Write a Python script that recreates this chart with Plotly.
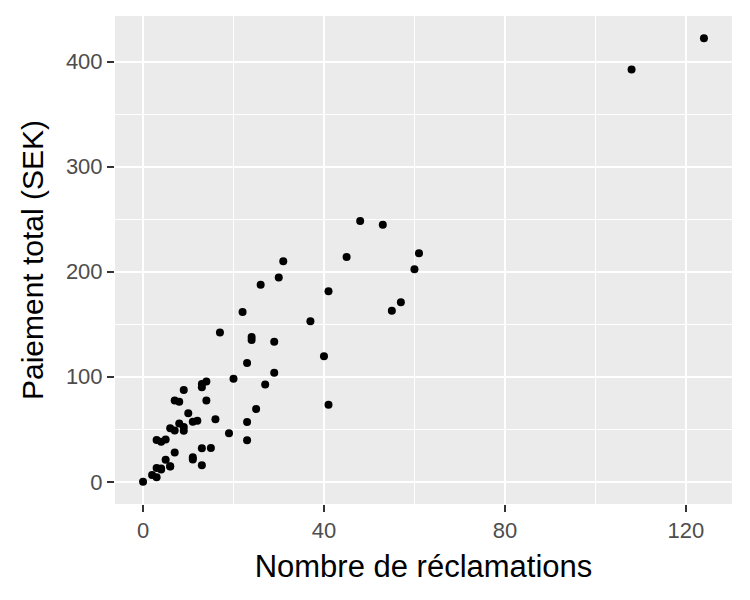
import plotly.graph_objects as go

# Swedish auto insurance: number of claims vs total payment (thousands SEK)
claims = [108, 19, 13, 124, 40, 57, 23, 14, 45, 10, 5, 48, 11, 23, 7, 2, 24, 6, 3, 23,
          6, 9, 9, 3, 29, 7, 4, 20, 7, 4, 0, 25, 6, 5, 22, 11, 61, 12, 4, 16,
          13, 60, 41, 37, 55, 41, 11, 27, 8, 3, 17, 13, 13, 15, 8, 29, 30, 24, 9, 31,
          14, 53, 26]
payment = [392.5, 46.2, 15.7, 422.2, 119.4, 170.9, 56.9, 77.5, 214.0, 65.3, 20.9, 248.1,
           23.5, 39.6, 48.8, 6.6, 134.9, 50.9, 4.4, 113.0, 14.8, 48.7, 52.1, 13.2, 103.9,
           77.5, 11.8, 98.1, 27.9, 38.1, 0.0, 69.2, 14.6, 40.3, 161.5, 57.2, 217.6, 58.1,
           12.6, 59.6, 89.9, 202.4, 181.3, 152.8, 162.8, 73.4, 21.3, 92.6, 76.1, 39.9,
           142.1, 93.0, 31.9, 32.1, 55.6, 133.3, 194.5, 137.9, 87.4, 209.8, 95.5, 244.6,
           187.5]

x_ticks = [0, 40, 80, 120]
y_ticks = [0, 100, 200, 300, 400]

#ggplot-style 5% expansion
xpad = (max(claims) - min(claims)) * 0.05
ypad = (max(payment) - min(payment)) * 0.05

fig = go.Figure(go.Scatter(
    x=claims, y=payment, mode='markers',
    marker=dict(color='black', size=8),
    hoverinfo='skip'
))

axis_style = dict(
    showgrid=True, gridcolor='white', gridwidth=1.8,
    zeroline=False, showline=False,
    ticks='outside', ticklen=7, tickwidth=2, tickcolor='#333333',
    tickfont=dict(size=22, color='#4d4d4d'),
    minor=dict(showgrid=True, gridcolor='white', gridwidth=0.9),
)

fig.update_xaxes(
    range=[min(claims) - xpad, max(claims) + xpad],
    tickvals=x_ticks, minor_dtick=20, minor_tick0=0,
    title=dict(text='Nombre de réclamations', font=dict(size=31, color='black'), standoff=12),
    **axis_style
)
fig.update_yaxes(
    range=[min(payment) - ypad, max(payment) + ypad],
    tickvals=y_ticks, minor_dtick=50, minor_tick0=0,
    title=dict(text='Paiement total (SEK)', font=dict(size=30, color='black'), standoff=13),
    **axis_style
)

#page adds an 8px body margin, so shrink the figure to fit the window
fig.update_layout(
    width=742, height=592,
    margin=dict(l=107, r=18, t=8, b=96),
    plot_bgcolor='#EBEBEB', paper_bgcolor='white',
    font=dict(family='Liberation Sans, Arial, sans-serif'),
    showlegend=False
)

fig.write_html("out.html")
